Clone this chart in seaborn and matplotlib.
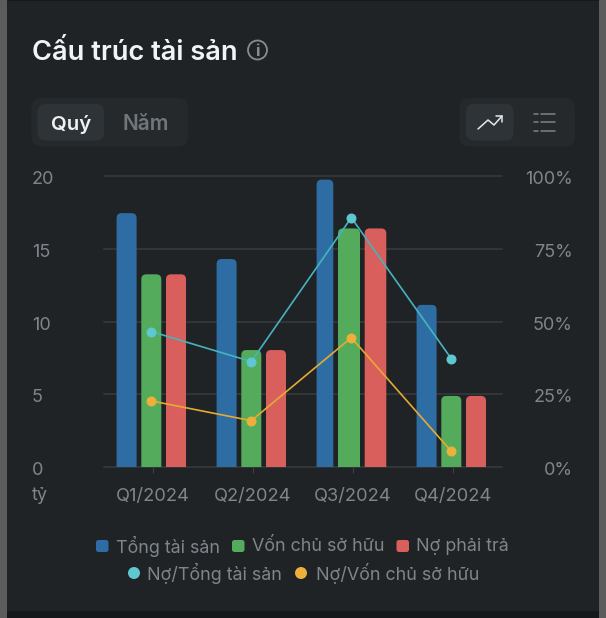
import pandas as pd
import matplotlib
matplotlib.use("Agg")
import matplotlib.pyplot as plt
import seaborn as sns
from matplotlib.patches import Circle, FancyBboxPatch, PathPatch, Rectangle
from matplotlib.path import Path
from matplotlib.transforms import ScaledTranslation

# Data
quarters = ["Q1/2024", "Q2/2024", "Q3/2024", "Q4/2024"]
tong_tai_san = [17.45, 14.3, 19.75, 11.15]
von_chu_so_huu = [13.25, 8.05, 16.4, 4.9]
no_phai_tra = [13.25, 8.05, 16.4, 4.9]
no_tren_tong_ts = [46.6, 36.3, 85.7, 37.3]
no_tren_von = [22.8, 16.0, 44.5, 5.5]

bar_names = ["Tổng tài sản", "Vốn chủ sở hữu", "Nợ phải trả"]
line_names = ["Nợ/Tổng tài sản", "Nợ/Vốn chủ sở hữu"]
left_ticks = [0, 5, 10, 15, 20]
right_ticks = [0, 25, 50, 75, 100]

# Colours
CARD = "#1f2326"
BAR_COLORS = ["#2e6da4", "#54ab5c", "#d95f5c"]
LINE_COLORS = ["#46b3bf", "#e6aa33"]
MARKER_COLORS = ["#5fc7d0", "#ecb03b"]
TEXT = "#7e858b"
GRID = "#34383b"

W, H = 606, 618

sns.set_theme(style="dark")
plt.rcParams["font.family"] = ["Inter", "DejaVu Sans"]

bars_df = pd.DataFrame({
    "quarter": quarters * 3,
    "value": tong_tai_san + von_chu_so_huu + no_phai_tra,
    "series": [n for n in bar_names for _ in quarters],
})
lines_df = pd.DataFrame({
    "quarter": quarters * 2,
    "value": no_tren_tong_ts + no_tren_von,
    "series": [n for n in line_names for _ in quarters],
})

fig = plt.figure(figsize=(W / 100, H / 100), dpi=100, facecolor=CARD)

# Overlay in pixel coordinates for the card, the title and the buttons
bg = fig.add_axes([0, 0, 1, 1], zorder=0)
bg.set_xlim(0, W)
bg.set_ylim(H, 0)
bg.axis("off")


def pill(x0, y0, x1, y1, color, r=8):
    bg.add_patch(FancyBboxPatch((x0 + r, y0 + r), x1 - x0 - 2 * r, y1 - y0 - 2 * r,
                                boxstyle=f"round,pad={r},rounding_size={r}",
                                fc=color, ec="none"))


# Page around the card
bg.add_patch(Rectangle((0, 0), 6.5, H, fc="#5c5c5c", ec="none"))
bg.add_patch(Rectangle((599, 0), 7, H, fc="#5c5c5c", ec="none"))
bg.add_patch(Rectangle((6.5, 0), 592.5, 1, fc="#14181b", ec="none"))
bg.add_patch(Rectangle((6.5, 611), 592.5, 7, fc="#14181b", ec="none"))

bg.text(32, 50, "Cấu trúc tài sản", color="#f2f3f4", fontsize=19.6, fontweight=600,
        va="center_baseline", ha="left")
bg.add_patch(Circle((257.5, 50), 9.5, fc="none", ec="#868c91", lw=1.3))
bg.text(257.5, 50, "i", color="#868c91", fontsize=12, fontweight="bold", ha="center", va="center_baseline")

pill(31.5, 98, 188, 146.5, "#25292c", r=10)
pill(37.5, 104, 104, 140.5, "#2e3337", r=8)
bg.text(71, 122.5, "Quý", color="#eef0f1", fontsize=14.7, fontweight=600,
        ha="center", va="center_baseline")
bg.text(146, 122.5, "Năm", color="#70777c", fontsize=15, fontweight=600,
        ha="center", va="center_baseline")

pill(459.5, 98, 575, 146.5, "#25292c", r=10)
pill(466, 104, 513.5, 140.5, "#2e3337", r=8)
bg.plot([478, 488, 494, 502], [129, 120, 125, 116], color="#e6e8ea", lw=1.1)
bg.plot([495.5, 502, 502], [116, 116, 122], color="#e6e8ea", lw=1.1)
for y in [113.5, 122, 130.5]:
    bg.plot([534, 538], [y, y], color="#7c8287", lw=1.1)
    bg.plot([540.5, 555], [y, y], color="#7c8287", lw=1.1)

# Legend row positions
for name, color, x0, x1 in zip(bar_names, BAR_COLORS, [96, 232, 396.5], [116.5, 252, 416]):
    pill(x0, 540, x0 + 12.5, 552, color, r=2.5)
    bg.text(x1, 544.5, name, color=TEXT, fontsize=12.9, ha="left", va="center_baseline")
for name, color, x0, x1 in zip(line_names, MARKER_COLORS, [134, 301], [147, 315.5]):
    bg.add_patch(Circle((x0, 573), 6, fc=color, ec="none"))
    bg.text(x1, 571.5, name, color=TEXT, fontsize=12.9, ha="left", va="center_baseline")

bg.text(32, 494, "tỷ", color=TEXT, fontsize=13, ha="left", va="center_baseline")

# Chart axes
ax_left, ax_right, ax_top, ax_bottom = 103.5, 502, 176, 467.3
ax = fig.add_axes([ax_left / W, 1 - ax_bottom / H, (ax_right - ax_left) / W, (ax_bottom - ax_top) / H],
                  zorder=1)
ax.patch.set_alpha(0)

sns.barplot(data=bars_df, x="quarter", y="value", hue="series", hue_order=bar_names,
            order=quarters, palette=BAR_COLORS, width=0.741, gap=0.19, saturation=1,
            legend=False, ax=ax, zorder=3)

xlim = (-0.478, 3.507)
ax.set_xlim(*xlim)
ax.set_ylim(0, 20)

# Round the top corners of each bar
px_x = (ax_right - ax_left) / (xlim[1] - xlim[0])
px_y = (ax_bottom - ax_top) / 20
rx, ry = 5 / px_x, 5 / px_y
# Q3 bars are not quite the same width as the others in the reference
q3_edges = [(0, -0.033), (-0.033, -0.013), (-0.013, 0.003)]
for s, container in enumerate(ax.containers):
    for q, bar in enumerate(container):
        x0, x1 = bar.get_x(), bar.get_x() + bar.get_width()
        top = bar.get_height()
        if q == 2:
            x0 += q3_edges[s][0]
            x1 += q3_edges[s][1]
        verts = [(x0, 0), (x0, top - ry), (x0, top), (x0 + rx, top), (x1 - rx, top),
                 (x1, top), (x1, top - ry), (x1, 0), (x0, 0)]
        codes = [Path.MOVETO, Path.LINETO, Path.CURVE3, Path.CURVE3, Path.LINETO,
                 Path.CURVE3, Path.CURVE3, Path.LINETO, Path.CLOSEPOLY]
        ax.add_patch(PathPatch(Path(verts, codes), fc=BAR_COLORS[s], ec="none", zorder=3))
        bar.set_visible(False)

ax.set_yticks(left_ticks, [str(v) for v in left_ticks])
ax.set_xticks([0.02 + i * 0.998 for i in range(4)], quarters)
ax.set_xlabel("")
ax.set_ylabel("")
ax.grid(False)
ax.grid(True, axis="y", color=GRID, lw=1.3, zorder=0)
ax.set_axisbelow(True)
for gl in ax.get_ygridlines():
    gl.set_clip_on(False)
for spine in ax.spines.values():
    spine.set_visible(False)
ax.tick_params(axis="x", colors=TEXT, labelsize=13.2, length=4.5, width=0.8, color="#3f4346", pad=10.5, bottom=True)
ax.tick_params(axis="y", colors=TEXT, labelsize=13, length=0, pad=51.5, left=False)
# y tick labels sit a little below their gridline in the reference
label_shift = ScaledTranslation(0, -1.5 / 100, fig.dpi_scale_trans)
for lab in ax.get_yticklabels():
    lab.set_ha("left")
    lab.set_transform(lab.get_transform() + label_shift)

# Ratios on the right axis
ax2 = ax.twinx()
ax2.patch.set_alpha(0)
sns.pointplot(data=lines_df, x="quarter", y="value", hue="series", hue_order=line_names,
              order=quarters, palette=LINE_COLORS, dodge=False, markers="o", markersize=6.3,
              linewidth=1.2, errorbar=None, legend=False, ax=ax2)
for line, color in zip(ax2.lines, MARKER_COLORS):
    line.set_markerfacecolor(color)
    line.set_markeredgecolor(color)
ax2.set_xlim(*xlim)
ax2.set_ylim(0, 100)
ax2.set_yticks(right_ticks, [f"{v}%" for v in right_ticks])
ax2.set_ylabel("")
ax2.set_xlabel("")
ax2.grid(False)
for spine in ax2.spines.values():
    spine.set_visible(False)
ax2.tick_params(axis="y", colors=TEXT, labelsize=13, length=0, pad=51, right=False)
for lab in ax2.get_yticklabels():
    lab.set_ha("right")
    lab.set_transform(lab.get_transform() + label_shift)
ax2.set_xticks([])
ax.set_xticks([0.02 + i * 0.998 for i in range(4)], quarters)

fig.savefig("out.png", dpi=100, facecolor=CARD)
